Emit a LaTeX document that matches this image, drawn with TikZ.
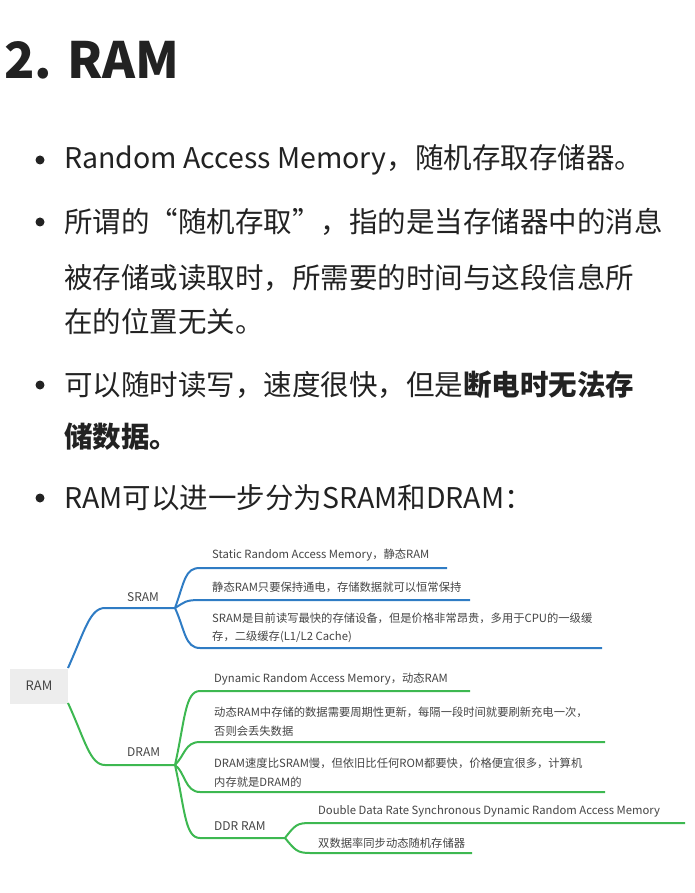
\documentclass[tikz,border=0pt]{standalone}
\usepackage{fontspec}
\setmainfont{Noto Sans CJK SC}
\usetikzlibrary{positioning}
\definecolor{sblue}{HTML}{2F7CC4}
\definecolor{dgreen}{HTML}{3DB851}
\definecolor{txt}{HTML}{222222}
\definecolor{leaf}{HTML}{444444}
\tikzset{line node/.style={anchor=west,inner sep=0pt,text=txt,font=\fontsize{28.5}{32}\selectfont},
  leaf node/.style={anchor=west,inner sep=0pt,text=leaf,font=\fontsize{11.3}{13}\selectfont},
  sblue line/.style={draw=sblue,line width=2pt},
  dgreen line/.style={draw=dgreen,line width=2pt},}

\begin{document}
\begin{tikzpicture}[x=1pt,y=-1pt]
        \useasboundingbox (0,0) rectangle (695,893);
        % Heading and bullets
        \node[anchor=base west,inner sep=0pt,text=txt,font=\fontsize{50}{56}\bfseries\selectfont] (title) at (4,79) {2. RAM};
        \foreach \y in {160,222,385,498}
            \fill[txt] (40,\y) circle (4.5);
        \node[line node] (b1) at (64,160) {Random Access Memory，随机存取存储器。};
        \node[line node] (b2) at (64,222) {所谓的“随机存取”，指的是当存储器中的消息};
        \node[line node] (b2b) at (64,278) {被存储或读取时，所需要的时间与这段信息所};
        \node[line node] (b2c) at (64,322) {在的位置无关。};
        \node[line node] (b3) at (64,385) {可以随时读写，速度很快，但是\textbf{断电时无法存}};
        \node[line node] (b3b) at (64,437) {\textbf{储数据。}};
        \node[line node] (b4) at (64,498) {RAM可以进一步分为SRAM和DRAM：};
        % Root
        \node[fill=black!7,text=leaf,minimum width=58pt,minimum height=35pt,inner sep=0pt,font=\fontsize{13}{15}\selectfont] (ram) at (39,686) {RAM};
        % SRAM branch
        \node[leaf node,font=\fontsize{12}{14}\selectfont] (sram) at (127,597) {SRAM};
        \coordinate (s0) at (105,608);
        \coordinate (s1) at (175,608);
        \draw[sblue line] (68,668) .. controls (85,630) and (90,608) .. (s0) -- (s1);
        \node[leaf node] (s1t) at (212,555) {Static Random Access Memory，静态RAM};
        \node[leaf node] (s2t) at (212,587) {静态RAM只要保持通电，存储数据就可以恒常保持};
        \node[leaf node] (s3t) at (212,618) {SRAM是目前读写最快的存储设备，但是价格非常昂贵，多用于CPU的一级缓};
        \node[leaf node] (s3u) at (212,637) {存，二级缓存(L1/L2 Cache)};
        \draw[sblue line] (s1) .. controls (185,580) and (185,568) .. (200,568) -- (447,568);
        \draw[sblue line] (s1) .. controls (185,602) and (185,600) .. (200,600) -- (470,600);
        \draw[sblue line] (s1) .. controls (185,630) and (185,648) .. (200,648) -- (602,648);
        % DRAM branch
        \node[leaf node,font=\fontsize{12}{14}\selectfont] (dram) at (127,752) {DRAM};
        \coordinate (d0) at (105,765);
        \coordinate (d1) at (175,765);
        \draw[dgreen line] (68,703) .. controls (85,740) and (90,765) .. (d0) -- (d1);
        \node[leaf node] (d1t) at (214,679) {Dynamic Random Access Memory，动态RAM};
        \node[leaf node] (d2t) at (214,712) {动态RAM中存储的数据需要周期性更新，每隔一段时间就要刷新充电一次，};
        \node[leaf node] (d2u) at (214,731) {否则会丢失数据};
        \node[leaf node] (d3t) at (214,763) {DRAM速度比SRAM慢，但依旧比任何ROM都要快，价格便宜很多，计算机};
        \node[leaf node] (d3u) at (214,782) {内存就是DRAM的};
        \node[leaf node,font=\fontsize{12}{14}\selectfont] (ddr) at (214,826) {DDR RAM};
        \draw[dgreen line] (d1) .. controls (185,720) and (185,691) .. (200,691) -- (470,691);
        \draw[dgreen line] (d1) .. controls (185,755) and (185,742) .. (200,742) -- (605,742);
        \draw[dgreen line] (d1) .. controls (185,772) and (185,792) .. (200,792) -- (605,792);
        \coordinate (r0) at (200,838);
        \coordinate (r1) at (285,838);
        \draw[dgreen line] (d1) .. controls (185,810) and (185,838) .. (r0) -- (r1);
        \node[leaf node] (r1t) at (318,811) {Double Data Rate Synchronous Dynamic Random Access Memory};
        \node[leaf node] (r2t) at (318,843) {双数据率同步动态随机存储器};
        \draw[dgreen line] (r1) .. controls (295,825) and (297,823) .. (310,823) -- (685,823);
        \draw[dgreen line] (r1) .. controls (295,850) and (297,853) .. (310,853) -- (472,853);
    \end{tikzpicture}
\end{document}
